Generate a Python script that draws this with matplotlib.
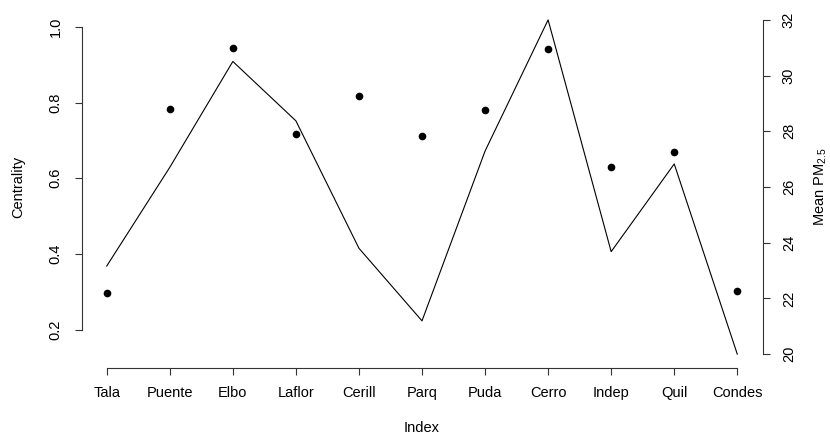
import numpy as np
import matplotlib.pyplot as plt

plt.rcParams['font.family'] = ['Liberation Sans', 'DejaVu Sans']
plt.rcParams['mathtext.default'] = 'regular'

# stations along the x axis
stations = ['Tala', 'Puente', 'Elbo', 'Laflor', 'Cerill', 'Parq',
            'Puda', 'Cerro', 'Indep', 'Quil', 'Condes']
# centrality (line, left axis)
centrality = [0.368, 0.629, 0.909, 0.752, 0.415, 0.223,
              0.672, 1.019, 0.406, 0.638, 0.135]
# mean PM2.5 (points, right axis)
pm25 = [22.20, 28.80, 30.98, 27.90, 29.27, 27.83,
        28.77, 30.96, 26.73, 27.26, 22.26]

left_ticks = [0.2, 0.4, 0.6, 0.8, 1.0]
right_ticks = [20, 22, 24, 26, 28, 30, 32]

FS = 10.5


def r_range(lo, hi):
    """extend a range by 4% each side like R does"""
    d = (hi - lo) * 0.04
    return lo - d, hi + d


fig = plt.figure(figsize=(8.3, 4.34), dpi=100)
ax = fig.add_axes([81.5 / 830, 1 - 367.5 / 434, 681 / 830, 361 / 434])
x = np.arange(1, len(stations) + 1)

ax.plot(x, centrality, color='black', lw=0.8)
ax.set_xlim(*r_range(1, len(stations)))
ax.set_ylim(*r_range(min(centrality), max(centrality)))

ax2 = ax.twinx()
ax2.plot(x, pm25, 'o', color='black', markersize=4.5)
ax2.set_ylim(*r_range(20, 32))

for a in (ax, ax2):
    for s in a.spines.values():
        s.set_visible(False)
    a.tick_params(length=5, width=0.8, labelsize=FS, color='#333333')

ax.spines['left'].set_visible(True)
ax.spines['left'].set_bounds(left_ticks[0], left_ticks[-1])
ax.spines['bottom'].set_visible(True)
ax.spines['bottom'].set_bounds(1, len(stations))
ax2.spines['right'].set_visible(True)
ax2.spines['right'].set_bounds(right_ticks[0], right_ticks[-1])
for s in (ax.spines['left'], ax.spines['bottom'], ax2.spines['right']):
    s.set_linewidth(0.8)
    s.set_color('#333333')

ax.set_xticks(x)
ax.set_xticklabels(stations)
ax.tick_params(axis='x', pad=8.5)
ax.set_yticks(left_ticks)
ax.set_yticklabels([f'{v:.1f}' for v in left_ticks], rotation=90, va='center')
ax.tick_params(axis='y', pad=8.5)
ax2.set_yticks(right_ticks)
ax2.set_yticklabels([str(v) for v in right_ticks], rotation=90, va='center')
ax2.tick_params(axis='y', pad=9)

ax.set_xlabel('Index', fontsize=FS, va='center')
ax.xaxis.set_label_coords(0.5, -0.1676)
ax.set_ylabel('Centrality', fontsize=FS, va='center')
ax.yaxis.set_label_coords(-0.0928, 0.5)
ax2.set_ylabel('Mean PM$_{2.5}$', fontsize=FS, va='center', rotation=90)
ax2.yaxis.set_label_coords(1.0860, 0.5)

fig.savefig('out.png', dpi=100)
